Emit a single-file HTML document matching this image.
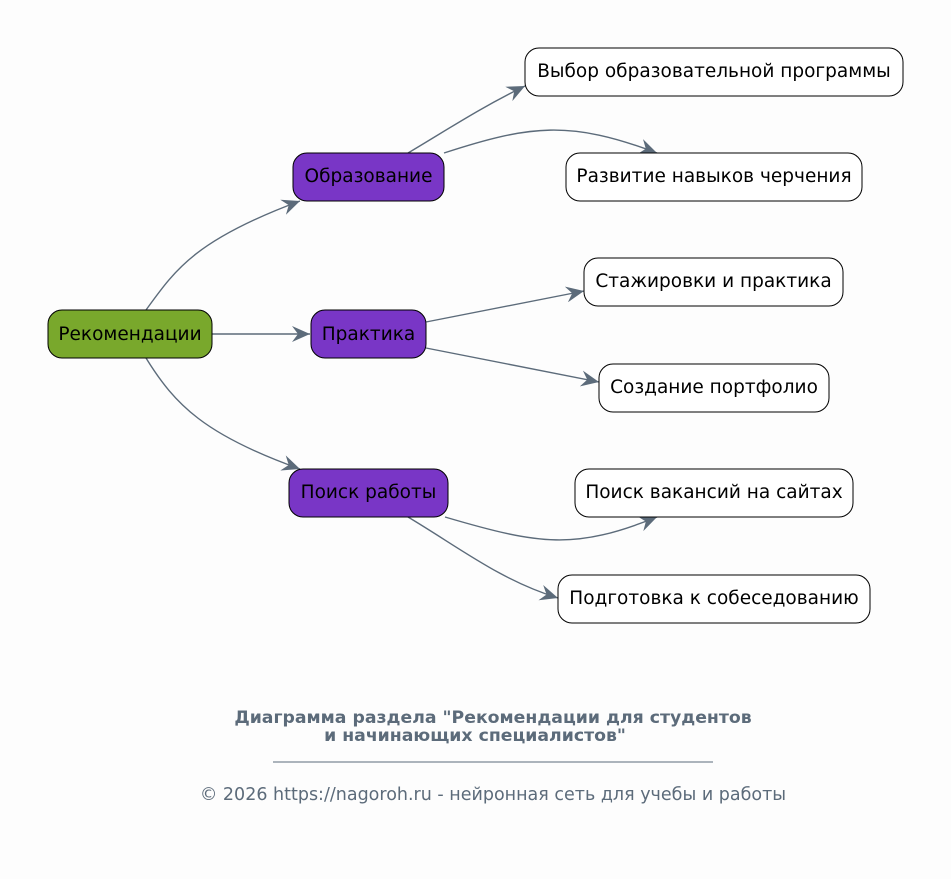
<!DOCTYPE html>
<html><head><meta charset="utf-8"><style>
html,body{margin:0;padding:0;background:#fdfdfd;}
svg{display:block;font-family:"DejaVu Sans","Liberation Sans",sans-serif;}
</style></head><body>
<svg width="951" height="879" viewBox="0 0 951 879" xmlns="http://www.w3.org/2000/svg">
<defs>
<marker id="a" markerWidth="20" markerHeight="16" refX="18" refY="8" orient="auto" markerUnits="userSpaceOnUse">
<path d="M0,0 L18,8 L0,16 L6,8 Z" fill="#5c6b7a"/>
</marker>
</defs>
<rect width="951" height="879" fill="#fdfdfd"/>
<g fill="none" stroke="#5c6b7a" stroke-width="1.4" marker-end="url(#a)">
<path d="M146,310 C175,270 195,240 300,201"/>
<path d="M212,334 L310,334"/>
<path d="M146,358 C175,405 205,435 300,469"/>
<path d="M408,153 C450,128 480,108 525,86"/>
<path d="M444,153 C530,125 570,120 657,153"/>
<path d="M426,322 L584,291"/>
<path d="M426,348 L599,382"/>
<path d="M445,517 C540,545 575,550 657,517"/>
<path d="M408,517 C460,548 500,580 558,598"/>
</g>
<g stroke="#000" stroke-width="1">
<rect x="48" y="310" width="164" height="48" rx="14" fill="#79a82c"/>
<rect x="293" y="153" width="151" height="48" rx="14" fill="#7936c6"/>
<rect x="311" y="310" width="115" height="48" rx="14" fill="#7936c6"/>
<rect x="289" y="469" width="159" height="48" rx="14" fill="#7936c6"/>
<rect x="525" y="48" width="378" height="48" rx="14" fill="#fff"/>
<rect x="566" y="153" width="296" height="48" rx="14" fill="#fff"/>
<rect x="584" y="258" width="259" height="48" rx="14" fill="#fff"/>
<rect x="599" y="364" width="230" height="48" rx="14" fill="#fff"/>
<rect x="575" y="469" width="278" height="48" rx="14" fill="#fff"/>
<rect x="558" y="575" width="312" height="48" rx="14" fill="#fff"/>
</g>
<g font-size="18.5" fill="#000" text-anchor="middle">
<text x="130" y="340">Рекомендации</text>
<text x="368.5" y="182">Образование</text>
<text x="368.5" y="340">Практика</text>
<text x="368.5" y="498">Поиск работы</text>
<text x="714" y="77">Выбор образовательной программы</text>
<text x="714" y="182">Развитие навыков черчения</text>
<text x="713.5" y="287">Стажировки и практика</text>
<text x="714" y="393">Создание портфолио</text>
<text x="714" y="498">Поиск вакансий на сайтах</text>
<text x="714" y="604">Подготовка к собеседованию</text>
</g>
<g fill="#5c6b7a" text-anchor="middle">
<text x="493" y="723" font-size="17.3" font-weight="bold">Диаграмма раздела "Рекомендации для студентов</text>
<text x="475" y="741" font-size="17.3" font-weight="bold">и начинающих специалистов"</text>
<line x1="273" y1="762" x2="713" y2="762" stroke="#5c6b7a" stroke-width="1"/>
<text x="493" y="800" font-size="17.5">© 2026 https://nagoroh.ru - нейронная сеть для учебы и работы</text>
</g>
</svg>
</body></html>
